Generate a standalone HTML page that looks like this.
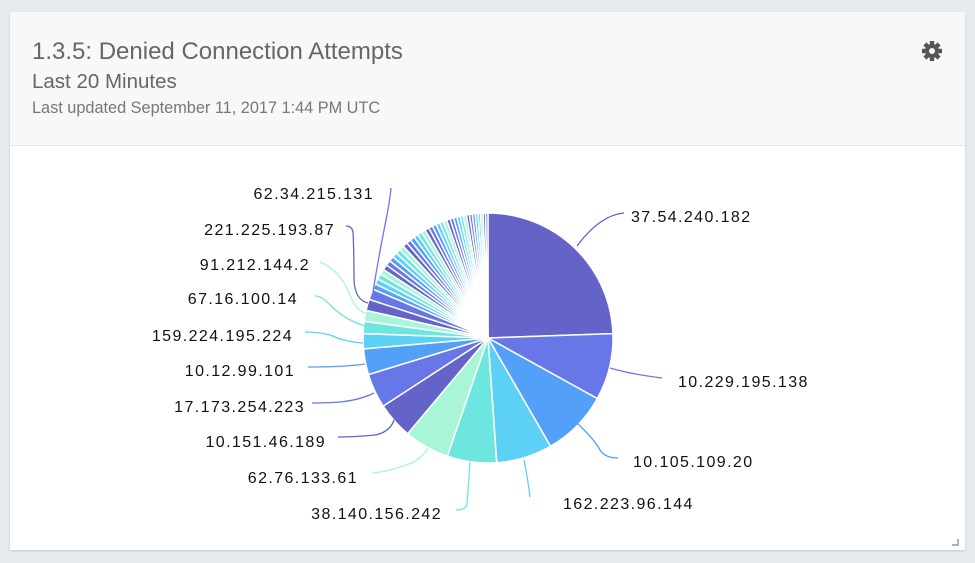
<!DOCTYPE html>
<html><head><meta charset="utf-8"><style>
html,body{margin:0;padding:0;width:975px;height:563px;background:#e6eaed;overflow:hidden;font-family:"Liberation Sans",sans-serif}
.card{position:absolute;left:10px;top:12px;width:955px;height:538px;background:#fff;box-shadow:0 1px 2px rgba(0,0,0,.15)}
.hdr{position:absolute;left:0;top:0;width:955px;height:133px;background:#f7f8fa;border-bottom:1px solid #e4e6e9}
.t1{position:absolute;left:22px;top:26px;font-size:24px;color:#666;font-weight:300}
.t2{position:absolute;left:22px;top:58px;font-size:20.5px;color:#666}
.t3{position:absolute;left:22px;top:87px;font-size:16.3px;color:#777}
svg{position:absolute;left:0;top:0}
</style></head><body>
<div class="card"><div class="hdr">
<div class="t1">1.3.5: Denied Connection Attempts</div>
<div class="t2">Last 20 Minutes</div>
<div class="t3">Last updated September 11, 2017 1:44 PM UTC</div>
</div></div>
<svg width="975" height="563" viewBox="0 0 975 563">
<g id="gear" fill="#555" transform="translate(932,51)">
<circle r="7"/>
<g><rect x="-2.2" y="-10" width="4.4" height="20"/><rect x="-2.2" y="-10" width="4.4" height="20" transform="rotate(45)"/><rect x="-2.2" y="-10" width="4.4" height="20" transform="rotate(90)"/><rect x="-2.2" y="-10" width="4.4" height="20" transform="rotate(135)"/></g>
<circle r="3" fill="#f7f8fa"/>
</g>
<path d="M952 545 L958 545 L958 539" stroke="#999" fill="none" stroke-width="1.5"/>
<g id="pie" stroke="#fff" stroke-width="1.5"></g>
<g fill="none" stroke-width="1.3">
<path d="M577 246 Q600 215 624 213" stroke="#6363c8"/>
<path d="M610 368 Q630 374 662 378" stroke="#6877e8"/>
<path d="M577 423 Q595 440 600 450 Q605 458 618 458" stroke="#52a0f8"/>
<path d="M524 460 Q528 480 530 497" stroke="#5dd0f5"/>
<path d="M470 462 Q468 490 467 505 Q465 510 456 510" stroke="#6ee6e0"/>
<path d="M428 448 Q420 462 400 467 Q385 472 372 473" stroke="#a8f5d8"/>
<path d="M394 420 Q390 432 375 435 Q355 437 338 437" stroke="#6363c8"/>
<path d="M374 393 Q360 400 340 402 Q325 403 312 403" stroke="#6877e8"/>
<path d="M365 364 Q345 367 308 367" stroke="#52a0f8"/>
<path d="M363 343 Q345 342 330 335 Q318 332 305 332" stroke="#5dd0f5"/>
<path d="M365 326 Q345 320 330 305 Q322 296 315 296" stroke="#6ee6e0"/>
<path d="M367 314 Q355 310 350 295 Q340 270 320 262" stroke="#a8f5d8"/>
<path d="M368 303 Q355 300 354 280 Q354 250 353 232 Q352 226 346 226" stroke="#6363c8"/>
<path d="M373 292 Q378 260 386 220 Q390 200 391 188" stroke="#6877e8"/>
</g>
<g font-size="16" letter-spacing="1.4" fill="#111">
<text x="631" y="222">37.54.240.182</text>
<text x="678" y="387">10.229.195.138</text>
<text x="633" y="467">10.105.109.20</text>
<text x="563" y="509">162.223.96.144</text>
<text x="442" y="519" text-anchor="end">38.140.156.242</text>
<text x="358" y="483" text-anchor="end">62.76.133.61</text>
<text x="326" y="447" text-anchor="end">10.151.46.189</text>
<text x="305" y="412" text-anchor="end">17.173.254.223</text>
<text x="295" y="376" text-anchor="end">10.12.99.101</text>
<text x="293" y="341" text-anchor="end">159.224.195.224</text>
<text x="298" y="304" text-anchor="end">67.16.100.14</text>
<text x="310" y="270" text-anchor="end">91.212.144.2</text>
<text x="335" y="235" text-anchor="end">221.225.193.87</text>
<text x="374" y="199" text-anchor="end">62.34.215.131</text>
</g>
</svg>
<script>
var cx=488,cy=338,r=125;
var b=[0,88,119,150,176,199,220,237,253,265,272,277.7,282.8,288,293];
var n=36,rem=360-293,w=[],s=0;
for(var i=0;i<n;i++){var v=1.8-i*0.03;w.push(v);s+=v;}
var a=293;for(var i=0;i<n;i++){a+=w[i]*rem/s;b.push(a);}
b[b.length-1]=360;
var cols=["#6363c8","#6877e8","#52a0f8","#5dd0f5","#6ee6e0","#a8f5d8"];
var g=document.getElementById("pie"),h="";
function pt(d){var t=d*Math.PI/180;return (cx+r*Math.sin(t)).toFixed(2)+" "+(cy-r*Math.cos(t)).toFixed(2);}
for(var i=0;i<b.length-1;i++){var a0=b[i],a1=b[i+1];
h+='<path fill="'+cols[i%6]+'" d="M'+cx+' '+cy+' L'+pt(a0)+' A'+r+' '+r+' 0 '+(a1-a0>180?1:0)+' 1 '+pt(a1)+' Z"/>';}
g.innerHTML=h;
</script>
</body></html>
